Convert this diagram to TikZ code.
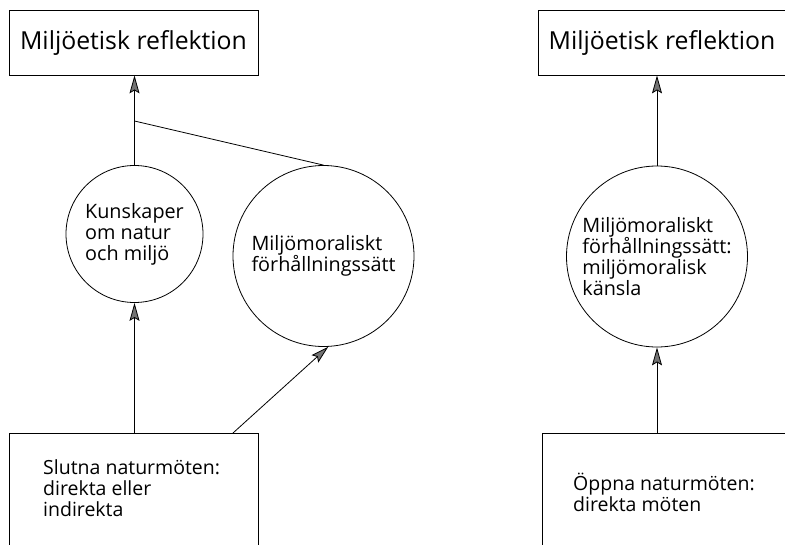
\documentclass[tikz,border=0pt]{standalone}
\usepackage{fontspec}
\setmainfont{Open Sans}
\usetikzlibrary{arrows.meta}

\tikzset{
  line/.style={draw=black, line width=0.8pt},
  arr/.style={line, -{Stealth[length=18pt,width=10pt,inset=3pt,fill=black!55]}},
  titlebox/.style={line, rectangle, minimum width=249pt, minimum height=65pt,
    inner sep=0pt, font=\fontsize{24.8}{30}\selectfont},
  basebox/.style={line, rectangle, minimum width=249pt, minimum height=150pt, inner sep=0pt},
  idea/.style={line, circle, inner sep=0pt, align=left,
    font=\fontsize{19.8}{21}\selectfont},
  boxtext/.style={anchor=north west, inner sep=0pt, align=left,
    font=\fontsize{19.5}{21}\selectfont},
}

\begin{document}
\begin{tikzpicture}[x=1pt,y=-1pt]
  \useasboundingbox (0,0) rectangle (785,544);
  \clip (0,0) rectangle (785,544);

  % left model: closed encounters with nature
  \node[titlebox] (t1) at (133.5,42.5) {Miljöetisk reflektion};
  \node[idea, minimum size=137pt] (c1) at (134.5,234) {Kunskaper\\om natur\\och miljö};
  \node[idea, minimum size=181pt] (c2) at (323.5,256) {Miljömoraliskt\\förhållningssätt};
  \node[basebox] (b1) at (133.5,508) {};
  \node[boxtext] (b1t) at (43,459) {Slutna naturmöten:\\direkta eller\\indirekta};

  \coordinate (j) at (c1.north |- 0,121);
  \coordinate (b1r) at (233,433);
  \draw[arr] (c1.north) -- (c1.north |- t1.south);
  \draw[line] (j) -- (c2.north);
  \draw[arr] (c1.south |- b1.north) -- (c1.south);
  \draw[arr] (b1r) -- (c2.-87);

  % right model: open encounters with nature
  \node[titlebox, minimum width=248pt] (t2) at (662,42.5) {Miljöetisk reflektion};
  \node[idea, minimum size=181pt] (c3) at (657,256.5)
    {Miljömoraliskt\\förhållningssätt:\\miljömoralisk\\känsla};
  \node[basebox, minimum width=248pt] (b2) at (666,508) {};
  \node[boxtext] (b2t) at (573,473) {Öppna naturmöten:\\direkta möten};

  \draw[arr] (c3.north) -- (c3.north |- t2.south);
  \draw[arr] (c3.south |- b2.north) -- (c3.south);
\end{tikzpicture}
\end{document}
